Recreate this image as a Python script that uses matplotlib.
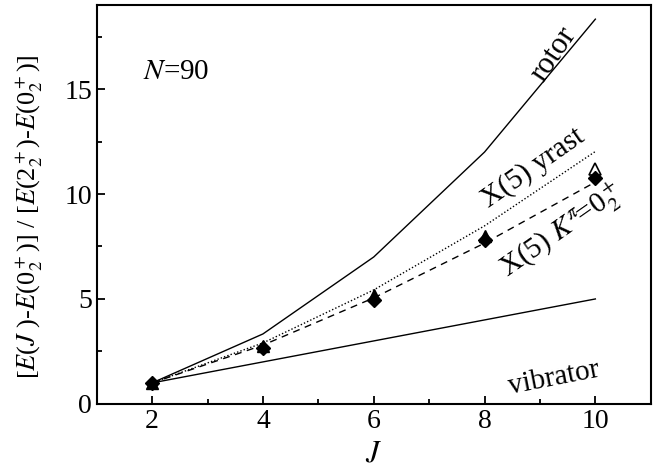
import matplotlib.pyplot as plt
from matplotlib.ticker import MultipleLocator

plt.rcParams['font.family'] = ['Liberation Serif', 'DejaVu Serif']
plt.rcParams['mathtext.fontset'] = 'stix'

# angular momentum of the levels
J = [2, 4, 6, 8, 10]

# model curves, normalised to the 2+ level of each band
rotor = [1.0, 3.333, 7.0, 12.0, 18.333]
vibrator = [1.0, 2.0, 3.0, 4.0, 5.0]
x5_yrast = [1.0, 2.904, 5.430, 8.483, 12.027]
x5_k02 = [1.0, 2.80, 5.05, 7.66, 10.57]

# measured ratios for the N=90 K=0_2 band
exp_diamond = [1.0, 2.65, 4.95, 7.80, 10.75]
J_tri = [2, 4, 6, 8]
exp_tri = [1.0, 2.75, 5.20, 8.00]
J_tri_open = [10]
exp_tri_open = [11.20]

fig = plt.figure(figsize=(6.58, 4.68), dpi=100)
ax = fig.add_axes([0.147, 0.137, 0.842, 0.852])

ax.plot(J, rotor, color='black', lw=1.0)
ax.plot(J, vibrator, color='black', lw=1.0)
ax.plot(J, x5_yrast, color='black', lw=1.0, ls=(0, (1, 1.5)))
ax.plot(J, x5_k02, color='black', lw=1.0, ls=(0, (5, 4)))

ax.plot(J_tri, exp_tri, ls='none', marker='^', ms=9, mfc='black', mec='black')
ax.plot(J_tri_open, exp_tri_open, ls='none', marker='^', ms=9, mfc='white',
        mec='black', mew=1.2)
ax.plot(J, exp_diamond, ls='none', marker='D', ms=7, mfc='black', mec='black')

ax.text(9.25, 16.65, 'rotor', rotation=56, fontsize=22, ha='center',
        va='center')
ax.text(8.88, 11.25, 'X(5) yrast', rotation=35, fontsize=21, ha='center',
        va='center')
ax.text(9.4, 8.2, r'X(5) $K^{\pi}\!$=0$_2^+$', rotation=35, fontsize=21,
        ha='center', va='center')
ax.text(9.26, 1.2, 'vibrator', rotation=11, fontsize=21, ha='center',
        va='center')
ax.text(1.84, 15.8, r'$N$=90', fontsize=21, ha='left', va='center')

ax.set_xlim(1, 11)
ax.set_ylim(0, 19)
ax.xaxis.set_major_locator(MultipleLocator(2))
ax.xaxis.set_minor_locator(MultipleLocator(1))
ax.yaxis.set_major_locator(MultipleLocator(5))
ax.yaxis.set_minor_locator(MultipleLocator(2.5))
ax.tick_params(which='both', direction='in', width=1.3, labelsize=20)
ax.tick_params(which='major', length=6)
ax.tick_params(which='minor', length=3.5)
for sp in ax.spines.values():
    sp.set_linewidth(1.5)

ax.set_xlabel(r'$J$', fontsize=22, labelpad=4)
ax.set_ylabel(r'[$E$($J$ )-$E$(0$_2^+$)] / [$E$(2$_2^+$)-$E$(0$_2^+$)]',
              fontsize=19)
ax.yaxis.set_label_coords(-0.093, 0.47)

fig.savefig('out.png', dpi=100)
